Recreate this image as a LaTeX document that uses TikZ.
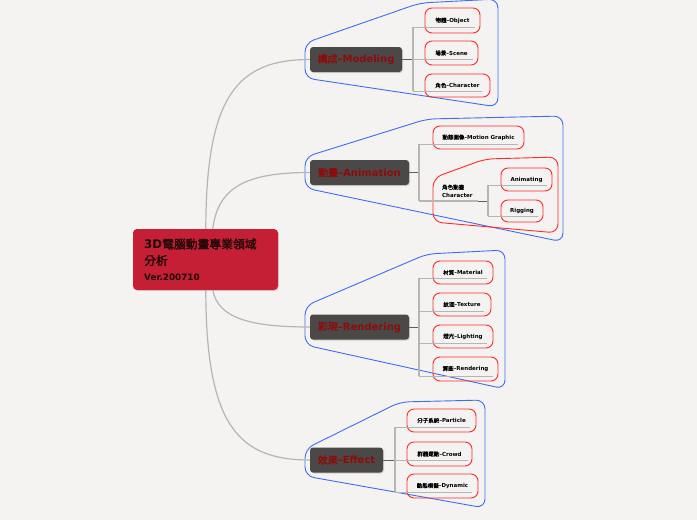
\documentclass[tikz,border=0pt]{standalone}
\usepackage{fontspec}
\setmainfont{DejaVu Sans}
\newfontfamily\cjkfont{Noto Sans CJK TC}[AutoFakeBold=2]
\newfontfamily\cjklight{Noto Sans CJK TC}[AutoFakeBold=1]
\newcommand\zh[1]{{\cjkfont #1}}
\newcommand\zl[1]{{\cjklight #1}}
\usetikzlibrary{calc,shadows}
\definecolor{bgc}{HTML}{F4F3F1}
\definecolor{crim}{HTML}{C51F36}
\definecolor{ctext}{HTML}{1E0808}
\definecolor{brfill}{HTML}{4B4947}
\definecolor{brtext}{HTML}{8E0B0B}
\definecolor{blueb}{HTML}{3D6EF2}
\definecolor{redb}{HTML}{FF2A2A}
\definecolor{lgray}{HTML}{B5B5B5}
\definecolor{dgray}{HTML}{5E5E5E}
\begin{document}
\begin{tikzpicture}[x=1pt,y=-1pt,
  bluebound/.style={draw=blueb, line width=0.9pt, rounded corners=9pt},
  redbound/.style={draw=redb, line width=0.9pt, rounded corners=9pt},
  central/.style={fill=crim, rounded corners=4pt, minimum width=145pt, minimum height=61pt, inner sep=0pt, drop shadow={shadow xshift=1pt, shadow yshift=-1pt, opacity=0.25}},
  ctxt/.style={anchor=base west, inner sep=0pt, text=ctext, font=\bfseries},
  branch/.style={fill=brfill, rounded corners=3pt, minimum height=25pt, text=brtext, font=\bfseries\fontsize{10}{12}\selectfont, inner sep=0pt, drop shadow={shadow xshift=1pt, shadow yshift=-1pt, opacity=0.3}},
  leaf/.style={draw=redb, line width=0.9pt, rounded corners=7pt, inner sep=0pt, text=black, font=\bfseries\fontsize{5.5}{6.5}\selectfont},
  curve/.style={draw=lgray, line width=1.2pt},
  darkl/.style={draw=dgray, line width=1pt},
  vline/.style={draw=lgray, line width=1.1pt},
  uline/.style={draw=lgray, line width=1.4pt}]
\useasboundingbox (0,0) rectangle (697,520);
\fill[bgc] (0,0) rectangle (697,520);

% boundaries
\draw[bluebound] (305,43) -- (420,3) -- (498,-1) -- (498,107) -- (305,78) -- cycle;
\draw[bluebound] (305,157) -- (427,119) -- (563,116) -- (563,242) -- (305,188) -- cycle;
\draw[redbound] (433,178) -- (485,159) -- (558,157) -- (558,233) -- (433,222) -- cycle;
\draw[bluebound] (305,306) -- (427,254) -- (505,250) -- (505,389) -- (305,345) -- cycle;
\draw[bluebound] (305,449) -- (400,402) -- (485,400) -- (485,508) -- (305,476) -- cycle;

% central and branch nodes
\node[central] (c) at (205.5,259.5) {};
\node[ctxt, font=\bfseries\fontsize{11.8}{13}\selectfont] (t1) at (144,248.5) {3D\zh{電腦動畫專業領域}};
\node[ctxt, font=\bfseries\fontsize{11.8}{13}\selectfont] (t2) at (144,265) {\zh{分析}};
\node[ctxt, font=\bfseries\fontsize{8.8}{10}\selectfont] (t3) at (144,280.5) {Ver.200710};
\node[branch, minimum width=92pt] (m) at (356,59.5) {\zh{構成}--Modeling};
\node[branch, minimum width=99pt] (a) at (359.5,172.5) {\zh{動畫}--Animation};
\node[branch, minimum width=99pt] (r) at (359.5,327) {\zh{彩現}--Rendering};
\node[branch, minimum width=73pt] (e) at (346.5,460) {\zh{效果}--Effect};

% connectors from center
\draw[curve] ($(c.north west)+(73,0)$) .. controls (206,95) and (238,59.5) .. (m.west);
\draw[curve] ($(c.north west)+(80,0)$) .. controls (218,185) and (250,172.5) .. (a.west);
\draw[curve] ($(c.south west)+(80,0)$) .. controls (218,318) and (250,327) .. (r.west);
\draw[curve] ($(c.south west)+(73,0)$) .. controls (206,425) and (238,460) .. (e.west);

% junctions
\coordinate (jm) at (413,59.5);
\coordinate (ja) at (419,172.5);
\coordinate (jr) at (419,327);
\coordinate (je) at (395,460);
\coordinate (cau) at (478,201);
\coordinate (jc) at (488,201);

% leaves
\node[leaf, minimum width=55pt, minimum height=25pt] (o) at (452.5,20.5) {\zl{物體}--Object};
\node[leaf, minimum width=53pt, minimum height=24pt] (s) at (451.5,53) {\zl{場景}--Scene};
\node[leaf, minimum width=65pt, minimum height=23pt] (ch) at (457.5,85.5) {\zl{角色}--Character};
\node[leaf, minimum width=91pt, minimum height=23pt] (mg) at (478.5,137.5) {\zl{動態圖像}--Motion Graphic};
\node[anchor=west, align=left, inner sep=0pt, font=\bfseries\fontsize{5.5}{8}\selectfont] (ca) at (442,191) {\zl{角色動畫}\\Character};
\node[leaf, minimum width=51pt, minimum height=23pt] (an) at (526.5,179.5) {Animating};
\node[leaf, minimum width=42pt, minimum height=22pt] (rg) at (522,211) {Rigging};
\node[leaf, minimum width=60pt, minimum height=23pt] (mat) at (463,272.5) {\zl{材質}--Material};
\node[leaf, minimum width=58pt, minimum height=23pt] (tex) at (462,304.5) {\zl{紋理}--Texture};
\node[leaf, minimum width=60pt, minimum height=23pt] (lig) at (463,336.5) {\zl{燈光}--Lighting};
\node[leaf, minimum width=65pt, minimum height=24pt] (ren) at (465.5,369) {\zl{算圖}--Rendering};
\node[leaf, minimum width=69pt, minimum height=23pt] (par) at (441.5,420.5) {\zl{分子系統}--Particle};
\node[leaf, minimum width=65pt, minimum height=24pt] (cro) at (439.5,454) {\zl{群體運動}--Crowd};
\node[leaf, minimum width=71pt, minimum height=24pt] (dyn) at (442.5,486) {\zl{動態模擬}--Dynamic};

% Modeling connectors
\draw[darkl] (m.east) -- (jm);
\draw[vline] ($(jm |- o.south)+(0,-6)$) -- ($(jm |- ch.south)+(0,-6)$);
\draw[uline] ($(jm |- o.south)+(0,-6)$) -- ($(o.south east)+(-5,-6)$);
\draw[uline] ($(jm |- s.south)+(0,-6)$) -- ($(s.south east)+(-5,-6)$);
\draw[uline] ($(jm |- ch.south)+(0,-6)$) -- ($(ch.south east)+(-8,-6)$);

% Animation connectors
\draw[darkl] (a.east) -- (ja);
\draw[vline] ($(ja |- mg.south)+(0,-5)$) -- (ja |- cau);
\draw[uline] ($(ja |- mg.south)+(0,-5)$) -- ($(mg.south east)+(-6,-5)$);
\draw[uline] (ja |- cau) -- (cau);
\draw[darkl] (cau) -- (jc);
\draw[vline] ($(jc |- an.south)+(0,-6)$) -- ($(jc |- rg.south)+(0,-6)$);
\draw[uline] ($(jc |- an.south)+(0,-6)$) -- ($(an.south east)+(-5,-6)$);
\draw[uline] ($(jc |- rg.south)+(0,-6)$) -- ($(rg.south east)+(-5,-6)$);

% Rendering connectors
\draw[darkl] (r.east) -- (jr);
\draw[vline] ($(jr |- mat.south)+(0,-6)$) -- ($(jr |- ren.south)+(0,-5)$);
\draw[uline] ($(jr |- mat.south)+(0,-6)$) -- ($(mat.south east)+(-6,-6)$);
\draw[uline] ($(jr |- tex.south)+(0,-5)$) -- ($(tex.south east)+(-7,-5)$);
\draw[uline] ($(jr |- lig.south)+(0,-5)$) -- ($(lig.south east)+(-6,-5)$);
\draw[uline] ($(jr |- ren.south)+(0,-5)$) -- ($(ren.south east)+(-5,-5)$);

% Effect connectors
\draw[darkl] (e.east) -- (je);
\draw[vline] ($(je |- par.south)+(0,-5)$) -- ($(je |- dyn.south)+(0,-6)$);
\draw[uline] ($(je |- par.south)+(0,-5)$) -- ($(par.south east)+(-6,-5)$);
\draw[uline] ($(je |- cro.south)+(0,-6)$) -- ($(cro.south east)+(-4,-6)$);
\draw[uline] ($(je |- dyn.south)+(0,-6)$) -- ($(dyn.south east)+(-6,-6)$);
\end{tikzpicture}
\end{document}
